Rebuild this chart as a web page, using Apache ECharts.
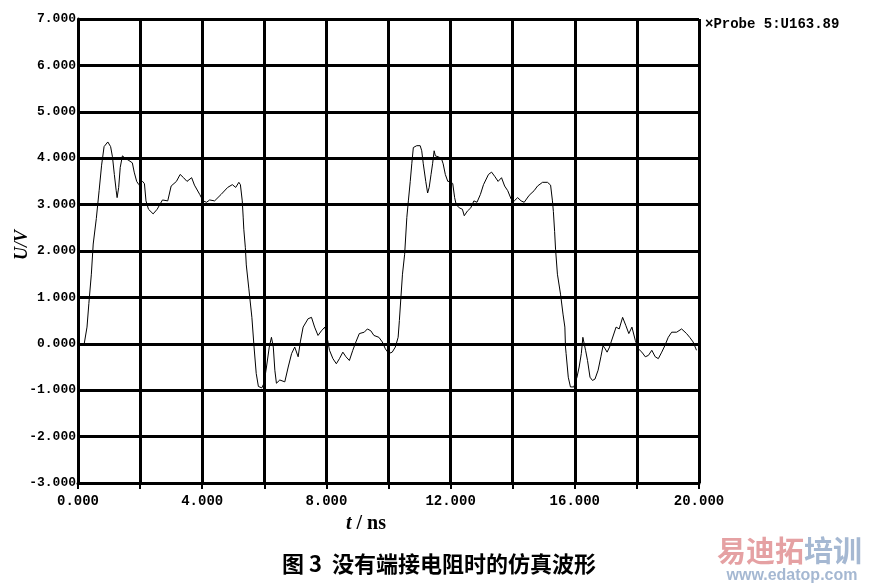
<!DOCTYPE html>
<html>
<head>
<meta charset="utf-8">
<script src="https://cdn.jsdelivr.net/npm/echarts@6/dist/echarts.min.js"></script>
<style>
html,body{margin:0;padding:0;background:#fff;}
#chart{width:871px;height:586px;}
</style>
</head>
<body>
<div id="chart"></div>
<script>
// time axis (ns)
const timeNs = [
  0, 0.2, 0.29, 0.35, 0.43, 0.49, 0.59, 0.68, 0.76, 0.84, 0.96, 1.05, 1.11, 1.17, 1.23, 1.26, 1.31, 1.36, 1.43, 1.52,
  1.64, 1.75, 1.81, 1.89, 1.96, 2.08, 2.14, 2.19, 2.27, 2.42, 2.55, 2.72, 2.89, 3.0, 3.17, 3.29, 3.40, 3.51, 3.66, 3.75,
  3.92, 4.03, 4.14, 4.24, 4.40, 4.61, 4.82, 4.97, 5.08, 5.18, 5.23, 5.29, 5.32, 5.34, 5.39, 5.42, 5.50, 5.60, 5.67, 5.74,
  5.81, 5.92, 5.99, 6.07, 6.16, 6.23, 6.29, 6.34, 6.39, 6.50, 6.66, 6.77, 6.88, 6.98, 7.09, 7.16, 7.25, 7.41, 7.52, 7.62,
  7.73, 7.84, 7.95, 8.0, 8.10, 8.21, 8.32, 8.42, 8.53, 8.63, 8.74, 8.85, 8.95, 9.06, 9.22, 9.32, 9.43, 9.53, 9.69, 9.80,
  9.90, 10.01, 10.12, 10.22, 10.31, 10.35, 10.40, 10.45, 10.52, 10.59, 10.64, 10.70, 10.75, 10.80, 10.91, 11.02, 11.07, 11.12, 11.20, 11.26,
  11.31, 11.37, 11.42, 11.47, 11.51, 11.60, 11.70, 11.76, 11.83, 11.91, 12.0, 12.07, 12.13, 12.18, 12.28, 12.38, 12.44, 12.54, 12.65, 12.75,
  12.85, 12.96, 13.06, 13.22, 13.32, 13.43, 13.53, 13.64, 13.74, 13.84, 13.95, 14.05, 14.16, 14.27, 14.37, 14.53, 14.69, 14.80, 14.96, 15.12,
  15.22, 15.28, 15.31, 15.35, 15.38, 15.44, 15.54, 15.62, 15.68, 15.70, 15.72, 15.79, 15.86, 15.97, 16.07, 16.14, 16.21, 16.26, 16.31, 16.35,
  16.41, 16.49, 16.57, 16.65, 16.75, 16.84, 16.91, 16.98, 17.04, 17.12, 17.17, 17.33, 17.43, 17.54, 17.64, 17.74, 17.84, 17.95, 18.05, 18.16,
  18.27, 18.37, 18.48, 18.59, 18.69, 18.80, 18.90, 19.01, 19.12, 19.28, 19.44, 19.60, 19.70, 19.81, 19.92
];
// probe voltage (V)
const voltageV = [
  0, 0, 0.36, 0.87, 1.5, 2.15, 2.7, 3.3, 3.85, 4.25, 4.35, 4.25, 4.03, 3.65, 3.3, 3.15, 3.37, 3.8, 4.05, 4.0,
  3.95, 3.9, 3.7, 3.5, 3.43, 3.5, 3.45, 3.08, 2.9, 2.8, 2.9, 3.1, 3.08, 3.4, 3.5, 3.65, 3.58, 3.5, 3.58, 3.42,
  3.22, 3.08, 3.05, 3.1, 3.08, 3.22, 3.37, 3.43, 3.37, 3.48, 3.43, 3.08, 2.73, 2.47, 2.07, 1.7, 1.2, 0.57, -0.07, -0.64,
  -0.92, -0.95, -0.85, -0.5, -0.07, 0.14, -0.07, -0.57, -0.85, -0.78, -0.82, -0.5, -0.21, -0.07, -0.28, 0.04, 0.36, 0.54, 0.57, 0.36,
  0.18, 0.28, 0.36, 0.22, -0.14, -0.32, -0.43, -0.32, -0.18, -0.28, -0.36, -0.14, 0.04, 0.22, 0.25, 0.32, 0.28, 0.18, 0.14, 0.04,
  -0.11, -0.21, -0.18, -0.07, 0.14, 0.5, 1.0, 1.5, 1.93, 2.72, 3.08, 3.5, 3.88, 4.23, 4.27, 4.27, 4.16, 3.88, 3.5, 3.25,
  3.37, 3.65, 3.88, 4.16, 4.05, 4.03, 4.0, 3.88, 3.65, 3.5, 3.5, 3.45, 3.15, 3.0, 2.93, 2.9, 2.76, 2.86, 2.93, 3.08,
  3.05, 3.22, 3.43, 3.65, 3.7, 3.6, 3.5, 3.58, 3.4, 3.3, 3.12, 3.08, 3.15, 3.08, 3.05, 3.2, 3.3, 3.4, 3.48, 3.48,
  3.42, 3.08, 2.85, 2.42, 2.04, 1.5, 1.07, 0.64, 0.36, -0.07, -0.21, -0.72, -0.93, -0.93, -0.72, -0.5, -0.21, 0.14, 0.1, -0.15,
  -0.36, -0.72, -0.79, -0.76, -0.57, -0.28, -0.04, -0.11, -0.18, -0.07, 0.04, 0.36, 0.32, 0.57, 0.4, 0.22, 0.36, 0.07, -0.11, -0.18,
  -0.28, -0.25, -0.14, -0.28, -0.32, -0.18, -0.04, 0.14, 0.25, 0.25, 0.32, 0.22, 0.14, 0.04, -0.14
];
const xTicks = { min: 0, max: 20, step: 2, labelStep: 4 };
const yTicks = { min: -3, max: 7, step: 1 };
const legendText = '\u00d7Probe 5:U163.89';
const caption = '图 3  没有端接电阻时的仿真波形';

const seriesData = timeNs.map((t, i) => [t, voltageV[i]]);
const monoFont = '"Liberation Mono","DejaVu Sans Mono",monospace';

const chart = echarts.init(document.getElementById('chart'), null, { renderer: 'canvas' });
chart.setOption({
  backgroundColor: '#ffffff',
  animation: false,
  grid: { left: 78, right: 172, top: 19, bottom: 103, containLabel: false },
  xAxis: {
    type: 'value', min: xTicks.min, max: xTicks.max, interval: xTicks.step,
    axisLine: { show: true, onZero: false, lineStyle: { color: '#000', width: 3 } },
    axisTick: { show: true, length: 6, lineStyle: { color: '#000', width: 2 } },
    splitLine: { show: true, lineStyle: { color: '#000', width: 3 } },
    axisLabel: {
      show: true, margin: 11, color: '#000', fontFamily: monoFont, fontSize: 14, fontWeight: 'bold',
      showMaxLabel: true, showMinLabel: true,
      formatter: v => (Math.abs(v % xTicks.labelStep) < 1e-9 ? v.toFixed(3) : '')
    }
  },
  yAxis: {
    type: 'value', min: yTicks.min, max: yTicks.max, interval: yTicks.step,
    axisLine: { show: true, onZero: false, lineStyle: { color: '#000', width: 3 } },
    axisTick: { show: false },
    splitLine: { show: true, lineStyle: { color: '#000', width: 3 } },
    axisLabel: {
      show: true, margin: 2, color: '#000', fontFamily: monoFont, fontSize: 13, fontWeight: 'bold',
      formatter: v => v.toFixed(3)
    }
  },
  series: [{
    type: 'line', data: seriesData, showSymbol: false, smooth: false,
    lineStyle: { color: '#000', width: 1 }
  }],
  graphic: [
    { type: 'text', left: 705, top: 17, style: { text: legendText, fill: '#000', font: 'bold 14px ' + monoFont } },
    { type: 'text', x: 22, y: 245, rotation: Math.PI / 2,
      style: { text: 'U/V', fill: '#000', font: 'italic bold 18px "Liberation Serif","DejaVu Serif",serif', align: 'center', verticalAlign: 'middle' } },
    { type: 'text', x: 366, y: 524,
      style: {
        text: '{i|t}{n| / ns}', align: 'center', verticalAlign: 'middle',
        rich: {
          i: { fontFamily: '"Liberation Serif","DejaVu Serif",serif', fontStyle: 'italic', fontWeight: 'bold', fontSize: 20, fill: '#000' },
          n: { fontFamily: '"Liberation Serif","DejaVu Serif",serif', fontWeight: 'bold', fontSize: 20, fill: '#000' }
        }
      } },
    { type: 'text', x: 439, y: 564,
      style: { text: caption, fill: '#000', font: 'bold 22px "Noto Sans CJK SC",sans-serif', align: 'center', verticalAlign: 'middle' } },
    { type: 'text', x: 717, y: 551,
      style: {
        text: '{p|易迪拓}{b|培训}', verticalAlign: 'middle',
        rich: {
          p: { fontFamily: '"Noto Sans CJK SC",sans-serif', fontWeight: 'bold', fontSize: 29, fill: '#e5a1a3' },
          b: { fontFamily: '"Noto Sans CJK SC",sans-serif', fontWeight: 'bold', fontSize: 29, fill: '#a5b8d2' }
        }
      } },
    { type: 'text', x: 792, y: 576,
      style: { text: 'www.edatop.com', fill: '#a5b8d2', font: 'bold 16px "Liberation Sans",Arial,sans-serif', align: 'center', verticalAlign: 'middle' } }
  ]
});
</script>
</body>
</html>
